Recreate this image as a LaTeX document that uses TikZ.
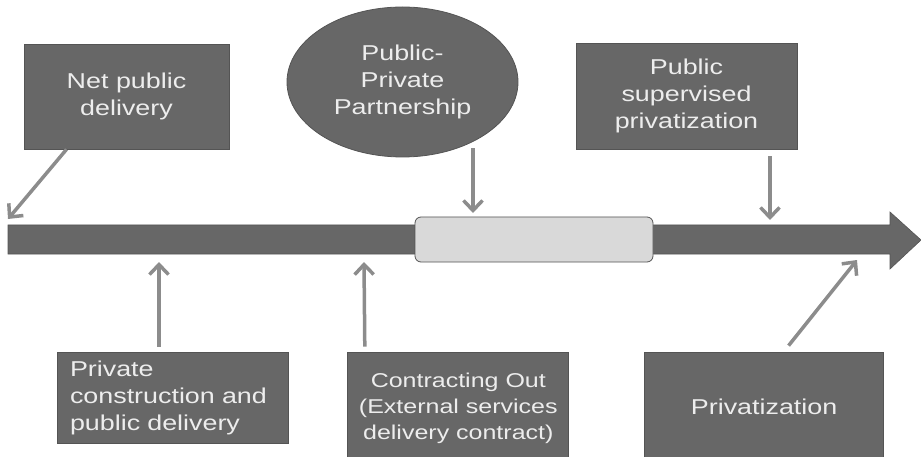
\documentclass[tikz,border=0pt]{standalone}
\usepackage{fontspec}
\setmainfont{Liberation Sans}[FakeStretch=1.25]
\usetikzlibrary{
    positioning, % bottom row placed relative to each other
    arrows.meta,
    shapes.geometric
}
\definecolor{boxgray}{HTML}{676767}
\definecolor{boxedge}{HTML}{545454}
\definecolor{boxtext}{HTML}{EDEDED}
\definecolor{arrowgray}{HTML}{8C8C8C}
\definecolor{windowgray}{HTML}{D9D9D9}

\begin{document}
\begin{tikzpicture}[x=1pt, y=-1pt]

    % --- Styles ---
    \tikzset{
        box/.style={draw=boxedge, fill=boxgray, text=boxtext, line width=0.8pt,
            font=\fontsize{21.5}{27}\selectfont, align=center, inner sep=0pt},
        oval/.style={box, ellipse},
        window/.style={draw=boxedge, fill=windowgray, line width=0.8pt, rounded corners=6pt},
        timeline/.style={draw=boxedge, fill=boxgray, line width=0.6pt},
        connector/.style={draw=arrowgray, line width=3.5pt, -{Straight Barb[length=10pt, width=19pt]}}
    }

    \useasboundingbox (0,0) rectangle (921,457);
    \clip (0,0) rectangle (921,457);

    % --- Timeline bar ---
    \path[timeline] (8,225) -- (890,225) -- (890,212) -- (921,240) -- (890,269)
        -- (890,254) -- (8,254) -- cycle;
    \node[window, minimum width=238pt, minimum height=45pt] (ppp_window) at (534,239.5) {};

    % --- Where the arrows hit the bar ---
    \coordinate (net_end) at (8,219);
    \coordinate (ppp_end) at (473,213);
    \coordinate (psp_end) at (770,220);
    \coordinate (build_end) at (159,262);
    \coordinate (contract_end) at (364,262);
    \coordinate (priv_end) at (857,260);

    % --- Upper row ---
    \node[box, minimum width=205pt, minimum height=105pt] (net_public) at (126.5,96.5)
        {Net public\\delivery};
    \node[oval, minimum width=231pt, minimum height=150pt] (ppp) at (402.5,82)
        {Public-\\Private\\Partnership};
    \node[box, minimum width=221pt, minimum height=106pt] (supervised) at (686.5,96)
        {Public\\supervised\\privatization};

    % --- Lower row ---
    \node[box, align=left, text width=205pt, inner xsep=13pt, minimum height=91pt]
        (private_build) at (172.5,397.5)
        {Private\\construction and\\public delivery};
    \node[box, font=\fontsize{20}{26}\selectfont, minimum width=221pt, minimum height=112pt,
          right=59pt of private_build.north east, anchor=north west] (contracting)
        {Contracting Out\\(External services\\delivery contract)};
    \node[box, minimum width=239pt, minimum height=110pt,
          right=75pt of contracting.north east, anchor=north west] (privatization)
        {Privatization};

    % --- Arrows ---
    \draw[connector] ([xshift=-60pt]net_public.south) -- (net_end);
    \draw[connector] ([xshift=70.5pt, yshift=9pt]ppp.south) -- (ppp_end);
    \draw[connector] ([xshift=83.5pt, yshift=-7pt]supervised.south) -- (psp_end);
    \draw[connector] ([xshift=-13.5pt, yshift=5pt]private_build.north) -- (build_end);
    \draw[connector] ([xshift=-93.5pt, yshift=5pt]contracting.north) -- (contract_end);
    \draw[connector] ([xshift=24.5pt, yshift=6pt]privatization.north) -- (priv_end);

\end{tikzpicture}
\end{document}
